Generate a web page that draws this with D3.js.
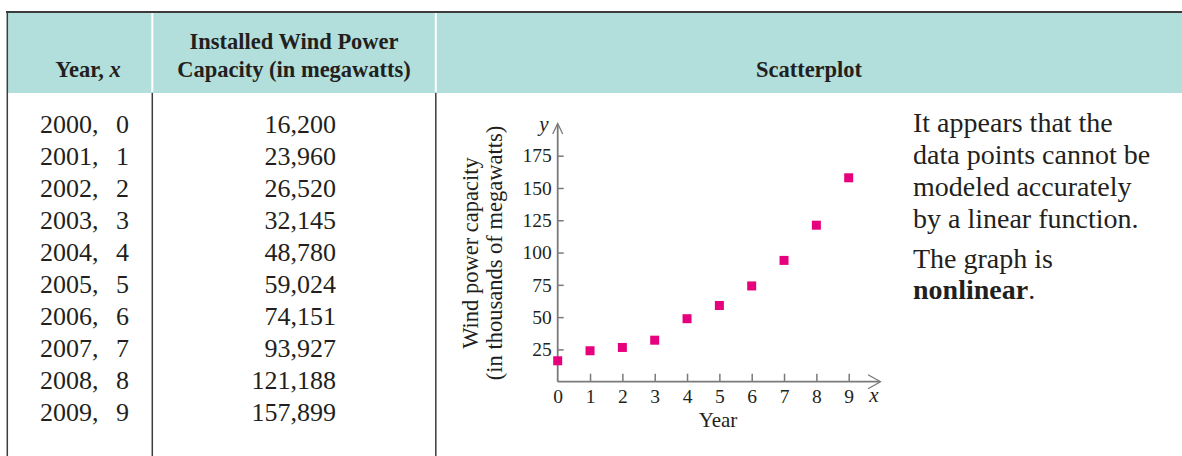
<!DOCTYPE html>
<html><head><meta charset="utf-8">
<script src="https://cdn.jsdelivr.net/npm/d3@7"></script>
<style>
html,body{margin:0;padding:0;background:#fff;}
svg text{font-family:"Liberation Serif","Times New Roman",serif;fill:#231f20;}
</style></head>
<body>
<svg id="c" width="1182" height="456"></svg>
<script>
// ---- data ----
const years = [2000, 2001, 2002, 2003, 2004, 2005, 2006, 2007, 2008, 2009];
const xValues = [0, 1, 2, 3, 4, 5, 6, 7, 8, 9];
const capacity = [16200, 23960, 26520, 32145, 48780, 59024, 74151, 93927, 121188, 157899];
const xTicks = [0, 1, 2, 3, 4, 5, 6, 7, 8, 9];
const yTicks = [25, 50, 75, 100, 125, 150, 175];
const noteLines = ["It appears that the", "data points cannot be", "modeled accurately", "by a linear function."];

const svg = d3.select("#c");
const headerFill = "#b2dedb";
const lineCol = "#3c3c3c";
const ink = "#231f20";

// header band
svg.append("rect").attr("x", 7).attr("y", 12).attr("width", 1175).attr("height", 81).attr("fill", headerFill);
svg.append("line").attr("x1", 6).attr("x2", 1182).attr("y1", 12).attr("y2", 12).attr("stroke", lineCol).attr("stroke-width", 2);
svg.append("line").attr("x1", 7.3).attr("x2", 7.3).attr("y1", 11).attr("y2", 456).attr("stroke", lineCol).attr("stroke-width", 1.5);
[152.3, 435.8].forEach(x => {
  svg.append("line").attr("x1", x).attr("x2", x).attr("y1", 13).attr("y2", 92).attr("stroke", "#fff").attr("stroke-width", 2);
  svg.append("line").attr("x1", x).attr("x2", x).attr("y1", 93).attr("y2", 456).attr("stroke", lineCol).attr("stroke-width", 1.5);
});

// header text
const hs = 22.5;
const h1 = svg.append("text").attr("x", 88).attr("y", 77).attr("text-anchor", "middle")
  .attr("font-size", hs).attr("font-weight", "bold");
h1.append("tspan").text("Year, ");
h1.append("tspan").attr("font-style", "italic").text("x");
svg.append("text").attr("x", 294).attr("y", 49).attr("text-anchor", "middle").attr("font-size", hs).attr("font-weight", "bold").text("Installed Wind Power");
svg.append("text").attr("x", 294).attr("y", 77).attr("text-anchor", "middle").attr("font-size", hs).attr("font-weight", "bold").text("Capacity (in megawatts)");
svg.append("text").attr("x", 809).attr("y", 77).attr("text-anchor", "middle").attr("font-size", hs).attr("font-weight", "bold").text("Scatterplot");

// table rows
const rowY = d3.scaleLinear().domain([0, 9]).range([133, 421]);
const rows = svg.append("g").selectAll("g").data(years).join("g");
rows.append("text").attr("x", 40).attr("y", (d, i) => rowY(i)).attr("font-size", 26).text(d => d + ",");
rows.append("text").attr("x", 116).attr("y", (d, i) => rowY(i)).attr("font-size", 26).text((d, i) => xValues[i]);
rows.append("text").attr("x", 336).attr("y", (d, i) => rowY(i)).attr("text-anchor", "end").attr("font-size", 26)
  .text((d, i) => d3.format(",")(capacity[i]));

// scatterplot
const x = d3.scaleLinear().domain([0, 9]).range([557.7, 848.7]);
const y = d3.scaleLinear().domain([0, 175]).range([381.7, 155.7]);
const axisCol = "#7a7a7a";

const gx = svg.append("g").attr("transform", `translate(0,${y(0)})`)
  .call(d3.axisBottom(x).tickValues(xTicks).tickSize(-8).tickPadding(7).tickFormat(d3.format("d")));
const gy = svg.append("g").attr("transform", `translate(${x(0)},0)`)
  .call(d3.axisLeft(y).tickValues(yTicks).tickSize(-6).tickPadding(6).tickFormat(d3.format("d")));
[gx, gy].forEach(g => {
  g.attr("font-size", null).attr("font-family", null);
  g.select(".domain").remove();
  g.selectAll(".tick line").attr("stroke", axisCol).attr("stroke-width", 1.5);
  g.selectAll(".tick text").style("font-size", "19.5px").attr("fill", ink).style("font-family", "'Liberation Serif',serif");
});
gx.selectAll(".tick").filter(d => d === 0).select("line").remove();

// axis lines with open arrowheads
svg.append("line").attr("x1", x(0)).attr("x2", 880).attr("y1", y(0)).attr("y2", y(0)).attr("stroke", axisCol).attr("stroke-width", 1.8);
svg.append("path").attr("d", `M868,${y(0) - 7}L880.5,${y(0)}L868,${y(0) + 7}`).attr("fill", "none").attr("stroke", axisCol).attr("stroke-width", 1.3);
svg.append("line").attr("x1", x(0)).attr("x2", x(0)).attr("y1", y(0)).attr("y2", 124).attr("stroke", axisCol).attr("stroke-width", 1.8);
svg.append("path").attr("d", `M${x(0) - 5},134L${x(0)},123.5L${x(0) + 5},134`).attr("fill", "none").attr("stroke", axisCol).attr("stroke-width", 1.3);

svg.append("text").attr("x", 874).attr("y", 402).attr("text-anchor", "middle").attr("font-size", 21).attr("font-style", "italic").text("x");
svg.append("text").attr("x", 544).attr("y", 131).attr("text-anchor", "middle").attr("font-size", 21).attr("font-style", "italic").text("y");
svg.append("text").attr("x", 718).attr("y", 427).attr("text-anchor", "middle").attr("font-size", 21).text("Year");
svg.append("text").attr("transform", "translate(478,253) rotate(-90)").attr("text-anchor", "middle").attr("font-size", 22.5).text("Wind power capacity");
svg.append("text").attr("transform", "translate(502,253) rotate(-90)").attr("text-anchor", "middle").attr("font-size", 22.5).text("(in thousands of megawatts)");

// points
const sq = 9;
svg.append("g").selectAll("rect").data(capacity).join("rect")
  .attr("x", (d, i) => x(xValues[i]) - sq / 2)
  .attr("y", d => y(d / 1000) - sq / 2)
  .attr("width", sq).attr("height", sq)
  .attr("fill", "#e6007e");

// notes
svg.append("g").selectAll("text").data(noteLines).join("text")
  .attr("x", 913).attr("y", (d, i) => 132 + i * 32).attr("font-size", 28).text(d => d);
svg.append("text").attr("x", 913).attr("y", 268).attr("font-size", 28).text("The graph is");
const nl = svg.append("text").attr("x", 913).attr("y", 299).attr("font-size", 28);
nl.append("tspan").attr("font-weight", "bold").text("nonlinear");
nl.append("tspan").text(".");
</script>
</body></html>
